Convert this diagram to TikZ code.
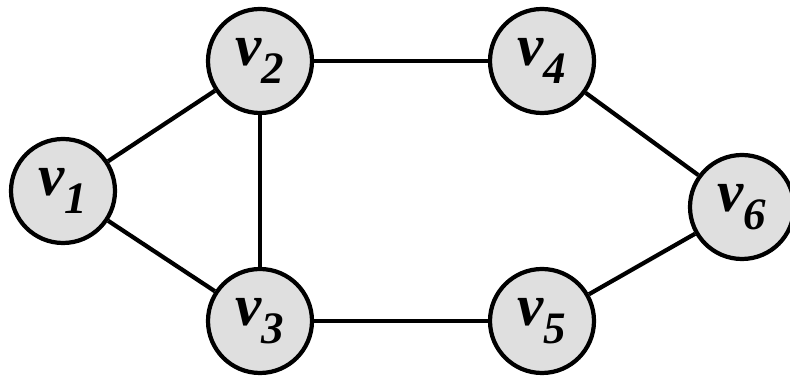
\documentclass[tikz,border=0pt]{standalone}
\usepackage{fontspec}
\setmainfont{Liberation Serif}
\usetikzlibrary{positioning}

\newcommand{\vlab}[1]{\fontsize{42}{42}\selectfont\bfseries\itshape v\raisebox{-0.3em}{\fontsize{32}{32}\selectfont #1}}

\begin{document}
\begin{tikzpicture}[
	nstyle/.style={circle, fill=gray!25, draw=black, line width=3pt,
	minimum size=2.6cm, inner sep=0pt},
	estyle/.style={line width=3pt}
	]
	\useasboundingbox (0,0) rectangle (19.75,9.475);
	\node[nstyle] (1) at (1.575,4.7) {\vlab{1}};
	\node[nstyle] (2) at (6.5,7.95) {\vlab{2}};
	\node[nstyle] (3) at (6.5,1.45) {\vlab{3}};
	\node[nstyle] (4) at (13.55,7.95) {\vlab{4}};
	\node[nstyle] (5) at (13.55,1.45) {\vlab{5}};
	\node[nstyle] (6) at (18.55,4.3) {\vlab{6}};
	
	\draw[estyle] (1) to (2);
	\draw[estyle] (1) to (3);
	\draw[estyle] (2.south) to (3.north);
	\draw[estyle] (2.east) to (4.west);
	\draw[estyle] (3.east) to (5.west);
	\draw[estyle] (4) to (6);
	\draw[estyle] (5) to (6);
\end{tikzpicture}
\end{document}
